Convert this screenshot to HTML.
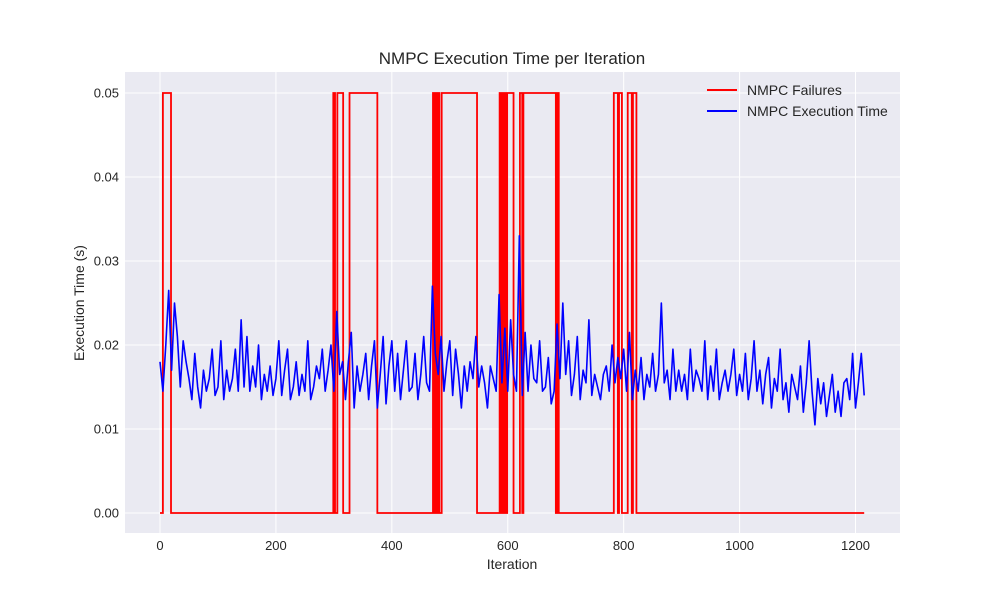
<!DOCTYPE html>
<html><head><meta charset="utf-8">
<style>
body{margin:0;background:#fff;}
svg text{font-family:"Liberation Sans",sans-serif;fill:#262626;}
</style></head>
<body>
<svg id="chart" width="1000" height="600" xmlns="http://www.w3.org/2000/svg">
<rect x="125" y="72" width="775" height="461" fill="#eaeaf2"/>
<g id="grid"></g>
<g id="ticks"></g>
<g id="series"></g>
<text x="512" y="64" text-anchor="middle" font-size="17">NMPC Execution Time per Iteration</text>
<text x="512" y="569" text-anchor="middle" font-size="14">Iteration</text>
<text transform="translate(84,303) rotate(-90)" text-anchor="middle" font-size="14">Execution Time (s)</text>
<g>
<line x1="707" y1="90" x2="737" y2="90" stroke="#ff0000" stroke-width="2"/>
<text x="747" y="95" font-size="14">NMPC Failures</text>
<line x1="707" y1="111" x2="737" y2="111" stroke="#0000ff" stroke-width="2"/>
<text x="747" y="116" font-size="14">NMPC Execution Time</text>
</g>
</svg>
<script>
const xTicks=[0,200,400,600,800,1000,1200];
const yTicks=[0,0.01,0.02,0.03,0.04,0.05];
const yTickLabels=["0.00","0.01","0.02","0.03","0.04","0.05"];
const execStep=5;
const execTimes=[
0.018,0.0145,0.020,0.0265,0.017,0.025,0.021,0.015,0.0205,0.018,0.016,0.0135,0.019,0.015,0.0125,0.017,0.0145,0.016,0.0195,0.014,
0.015,0.0205,0.0135,0.017,0.0145,0.016,0.0195,0.0145,0.023,0.015,0.021,0.0145,0.0175,0.015,0.020,0.0135,0.0165,0.0145,0.0175,0.014,
0.016,0.0205,0.014,0.017,0.0195,0.0135,0.015,0.018,0.014,0.0165,0.0145,0.0205,0.0135,0.015,0.0175,0.016,0.0195,0.0145,0.017,0.020,
0.0145,0.024,0.0165,0.018,0.0135,0.018,0.0215,0.0125,0.0175,0.0145,0.0165,0.019,0.0135,0.0175,0.0205,0.0125,0.0165,0.021,0.013,0.0175,
0.0205,0.0145,0.019,0.0135,0.017,0.0205,0.0145,0.015,0.019,0.0135,0.0165,0.021,0.0155,0.0145,0.027,0.019,0.0165,0.021,0.0145,0.018,
0.0205,0.014,0.0195,0.0165,0.0125,0.0175,0.0145,0.018,0.016,0.021,0.015,0.0175,0.0155,0.0125,0.0175,0.016,0.0145,0.026,0.0155,0.022,
0.0145,0.023,0.0165,0.0145,0.033,0.014,0.0215,0.0145,0.020,0.016,0.0155,0.0205,0.0145,0.015,0.0185,0.013,0.0145,0.0225,0.016,0.025,
0.0165,0.0205,0.014,0.0165,0.021,0.0135,0.017,0.0155,0.023,0.014,0.0165,0.015,0.0135,0.0165,0.0175,0.0145,0.020,0.0155,0.0185,0.016,
0.0195,0.0145,0.0215,0.0135,0.017,0.0145,0.0185,0.0135,0.0165,0.015,0.019,0.0145,0.0165,0.025,0.0155,0.017,0.0135,0.0195,0.0145,0.017,
0.0145,0.0165,0.0135,0.0195,0.0145,0.017,0.016,0.0145,0.0205,0.0135,0.0175,0.0145,0.0195,0.0135,0.0155,0.017,0.0145,0.0165,0.0195,0.014,
0.0165,0.0145,0.019,0.0135,0.016,0.0205,0.0145,0.017,0.013,0.0165,0.0185,0.0125,0.016,0.0145,0.0195,0.0135,0.0155,0.012,0.0165,0.015,
0.0135,0.0175,0.012,0.0155,0.0205,0.0145,0.0105,0.016,0.013,0.0155,0.0115,0.014,0.0165,0.012,0.0145,0.0115,0.0155,0.016,0.0135,0.019,
0.0125,0.0155,0.019,0.014];
const failStarts=[5,299,306,327,471,476,479,486,586,590,594,599,621,627,685,783,792,807,816];
const failEnds=[19,302,316,375,473,477,482,547,588,592,596,610,625,683,688,790,797,814,822];
const failValue=0.05;
const lastIter=1215;

const X=v=>160+v*(695.5/1200);
const Y=v=>513-v*(420/0.05);
const NS="http://www.w3.org/2000/svg";
const grid=document.getElementById('grid'),ticks=document.getElementById('ticks'),series=document.getElementById('series');
function mk(tag,attrs,parent){const e=document.createElementNS(NS,tag);for(const k in attrs)e.setAttribute(k,attrs[k]);parent.appendChild(e);return e;}
xTicks.forEach(t=>{
  const l=mk('line',{x1:X(t),x2:X(t),y1:72,y2:533,stroke:'#fff','stroke-width':1},grid);
  
  
  const tx=mk('text',{x:X(t),y:550,'text-anchor':'middle','font-size':13},ticks);
  tx.textContent=t;
  
  
});
yTicks.forEach((t,i)=>{
  const l=mk('line',{x1:125,x2:900,y1:Y(t),y2:Y(t),stroke:'#fff','stroke-width':1},grid);
  
  
  const tx=mk('text',{x:119,y:Y(t)+4.5,'text-anchor':'end','font-size':13},ticks);
  tx.textContent=yTickLabels[i];
  
  
});
// failures step line
let d='M'+X(0)+','+Y(0);
failStarts.forEach((s,i)=>{
  d+=' L'+X(s)+','+Y(0)+' L'+X(s)+','+Y(failValue)+' L'+X(failEnds[i])+','+Y(failValue)+' L'+X(failEnds[i])+','+Y(0);
});
d+=' L'+X(lastIter)+','+Y(0);
const fp=mk('path',{d:d,fill:'none',stroke:'#ff0000','stroke-width':1.8},series);


const pts=execTimes.map((v,i)=>X(Math.min(i*execStep,lastIter))+','+Y(v)).join(' ');
const ep=mk('polyline',{points:pts,fill:'none',stroke:'#0000ff','stroke-width':1.6,'stroke-linejoin':'round'},series);


</script>
</body></html>
